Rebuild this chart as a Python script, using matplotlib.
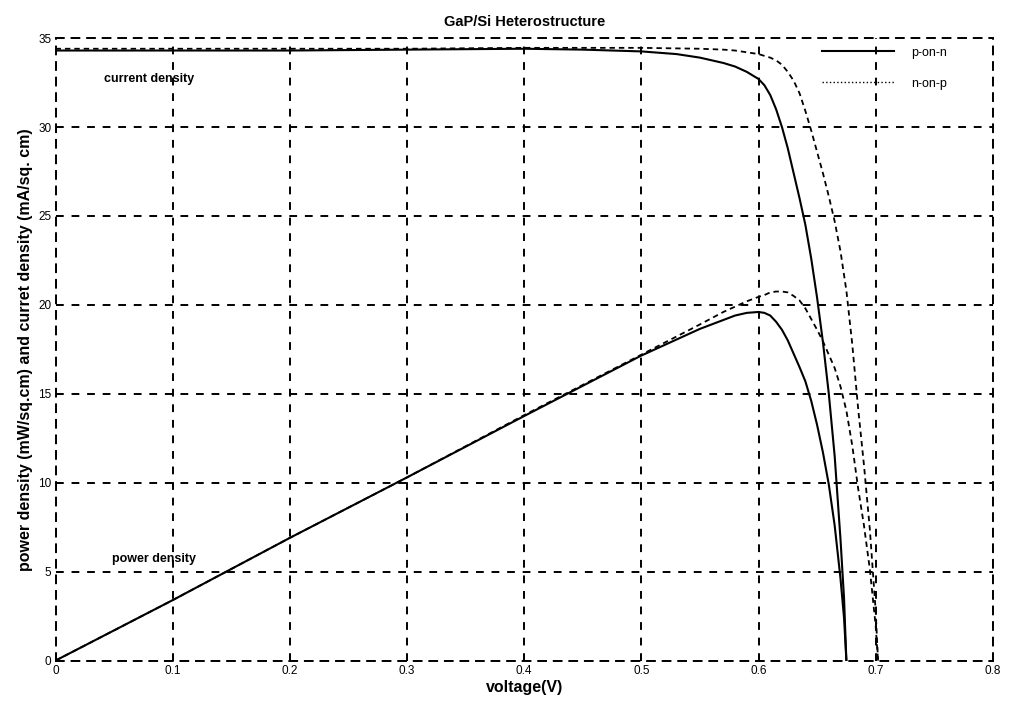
import matplotlib
matplotlib.use("Agg")
import matplotlib.pyplot as plt
from matplotlib.lines import Line2D

plt.rcParams["font.family"] = ["Liberation Sans", "DejaVu Sans"]

# p-on-n cell
v_pn = [0.0, 0.1, 0.2, 0.3, 0.4, 0.45, 0.5, 0.53, 0.55, 0.57, 0.58, 0.59, 0.60,
        0.605, 0.61, 0.615, 0.62, 0.625, 0.63, 0.635, 0.64, 0.645, 0.65,
        0.655, 0.66, 0.665, 0.67, 0.673, 0.675]
j_pn = [34.3, 34.3, 34.3, 34.35, 34.4, 34.35, 34.25, 34.1, 33.9, 33.6, 33.4, 33.1, 32.7,
        32.35, 31.8, 31.0, 30.0, 28.8, 27.4, 26.0, 24.5, 22.6, 20.4,
        17.9, 15.0, 11.5, 6.8, 3.5, 0.0]
p_pn = [0.0, 3.4, 6.9, 10.3, 13.75, 15.45, 17.15, 18.05, 18.65, 19.15, 19.4, 19.55, 19.6,
        19.55, 19.4, 19.05, 18.6, 18.0, 17.25, 16.5, 15.7, 14.6, 13.25,
        11.7, 9.9, 7.6, 4.6, 2.4, 0.0]

# n-on-p cell
v_np = [0.0, 0.1, 0.2, 0.3, 0.4, 0.5, 0.55, 0.57, 0.58, 0.59, 0.60, 0.605,
        0.61, 0.615, 0.62, 0.625, 0.63, 0.635, 0.64, 0.645, 0.65, 0.655,
        0.66, 0.665, 0.67, 0.675, 0.68, 0.685, 0.69, 0.695, 0.70, 0.702]
j_np = [34.4, 34.4, 34.4, 34.4, 34.45, 34.45, 34.4, 34.35, 34.3, 34.2, 34.1, 34.0,
        33.9, 33.75, 33.5, 33.1, 32.6, 31.9, 30.9, 29.8, 28.6, 27.4,
        26.1, 24.7, 23.0, 20.8, 17.8, 14.2, 11.0, 7.4, 2.8, 0.0]
p_np = [0.0, 3.4, 6.9, 10.3, 13.8, 17.2, 18.9, 19.6, 19.9, 20.2, 20.45, 20.55,
        20.7, 20.75, 20.75, 20.7, 20.5, 20.25, 19.8, 19.2, 18.6, 17.95,
        17.2, 16.45, 15.4, 14.05, 12.1, 9.7, 7.6, 5.15, 1.95, 0.0]

xticks = [0, 0.1, 0.2, 0.3, 0.4, 0.5, 0.6, 0.7, 0.8]
xtick_labels = ["0", "0.1", "0.2", "0.3", "0.4", "0.5", "0.6", "0.7", "0.8"]
yticks = [0, 5, 10, 15, 20, 25, 30, 35]

fig = plt.figure(figsize=(10.1, 7.05), dpi=100)
ax = fig.add_axes([0.055, 0.063, 0.928, 0.883])

dash = (0, (3, 2.2))
ax.plot(v_pn, j_pn, color="black", lw=1.5)
ax.plot(v_pn, p_pn, color="black", lw=1.5)
ax.plot(v_np, j_np, color="black", lw=1.3, ls=dash)
ax.plot(v_np, p_np, color="black", lw=1.3, ls=dash)

ax.set_xlim(0, 0.8)
ax.set_ylim(0, 35)
ax.set_xticks(xticks)
ax.set_xticklabels(xtick_labels)
ax.set_yticks(yticks)
ax.tick_params(direction="in", length=5, width=1.2, labelsize=8.5, pad=3)
ax.grid(True, color="black", ls=(0, (4, 4)), lw=1.4)
for s in ax.spines.values():
    s.set_linestyle((0, (4, 4)))
    s.set_linewidth(1.4)

ax.set_title("GaP/Si Heterostructure", fontsize=10.5, fontweight="bold", pad=9)
ax.set_xlabel("voltage(V)", fontsize=11.5, fontweight="bold", labelpad=2)
ax.set_ylabel("power density (mW/sq.cm) and curret density (mA/sq. cm)",
              fontsize=11.5, fontweight="bold", labelpad=4)

ax.text(0.041, 32.7, "current density", fontsize=9, fontweight="bold", va="center")
ax.text(0.048, 5.7, "power density", fontsize=9, fontweight="bold", va="center")

handles = [Line2D([], [], color="black", lw=1.5),
           Line2D([], [], color="black", lw=1.0, ls=":")]
ax.legend(handles, ["p-on-n", "n-on-p"], loc="upper right", frameon=False,
          fontsize=9, handlelength=5.8, handletextpad=1.3, labelspacing=1.5,
          borderaxespad=0.3, bbox_to_anchor=(0.96, 1.0))

fig.savefig("out.png", dpi=100)
